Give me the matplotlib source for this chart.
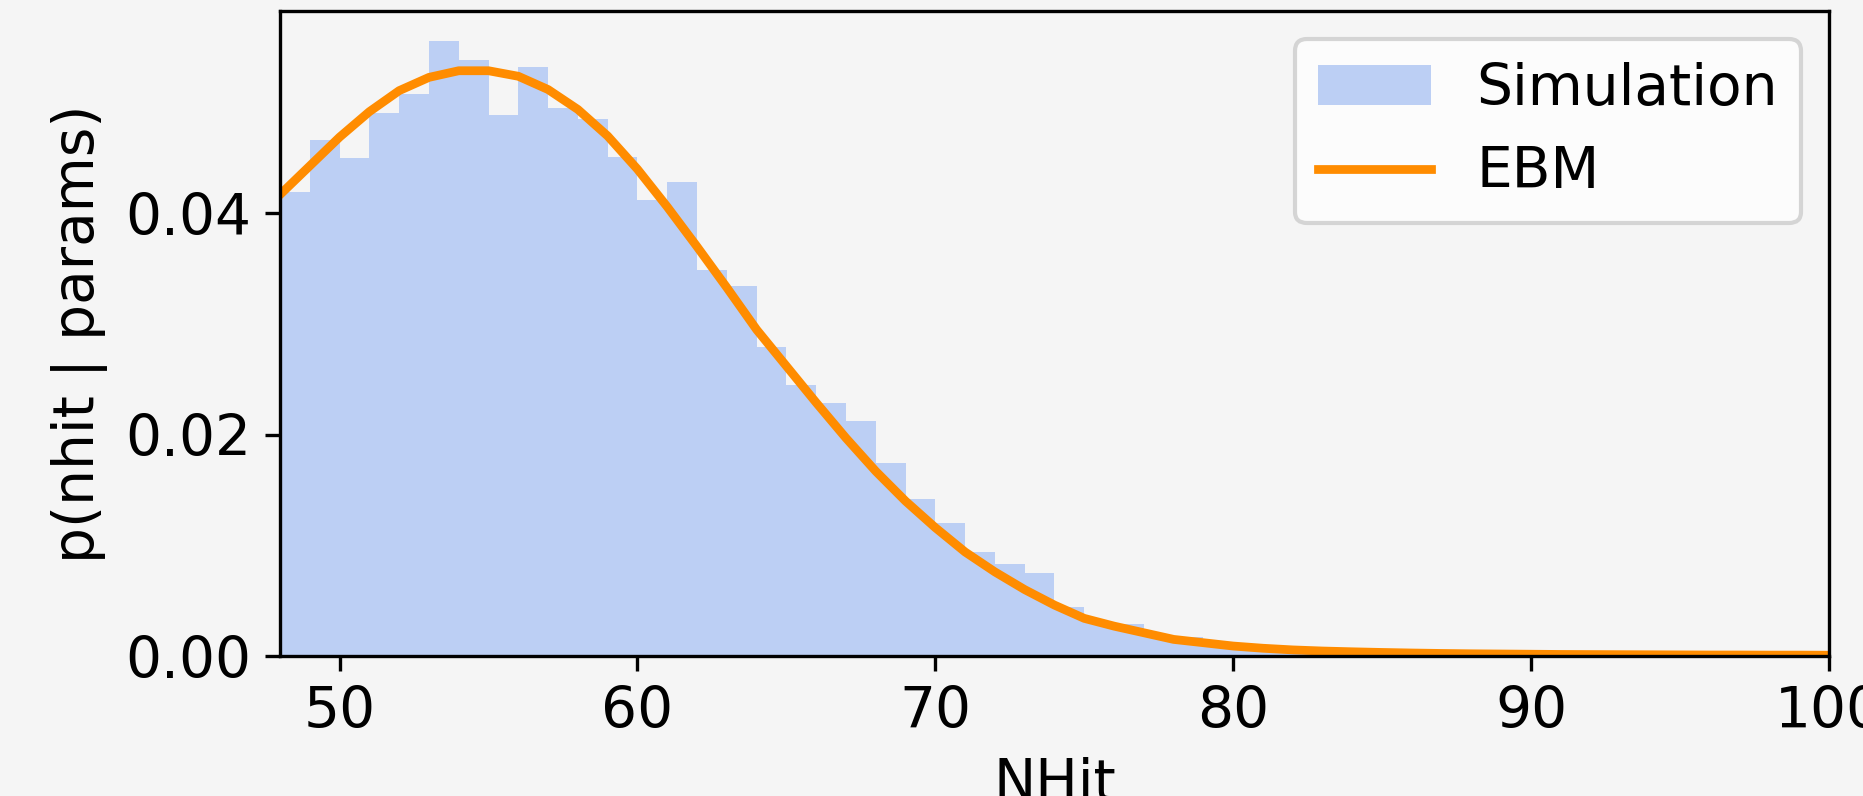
#!/usr/bin/env python3
"""
NHit distribution: simulated histogram vs. EBM density.

Writes out.png (1864x796).
"""

from __future__ import annotations

import matplotlib

matplotlib.use("Agg")
import matplotlib.pyplot as plt
import numpy as np

BG_COLOR = "#f5f5f5"
SIM_COLOR = "#bccff4"
EBM_COLOR = "darkorange"

# histogram bin edges (integer NHit) and normalised counts
BIN_EDGES = list(range(48, 101))
SIM_DENSITY = [
    0.0419, 0.0466, 0.0450, 0.0491, 0.0508, 0.0556, 0.0539, 0.0489, 0.0532, 0.0495,
    0.0485, 0.0451, 0.0412, 0.0428, 0.0349, 0.0334, 0.0279, 0.0245, 0.0229, 0.0212,
    0.0174, 0.0142, 0.0120, 0.0094, 0.0083, 0.0075, 0.0044, 0.0030, 0.0029, 0.0019,
    0.0017, 0.0011, 0.0008, 0.0006, 0.0007, 0.0003, 0.0002, 0.0001, 0.0001, 0.0,
    0.0, 0.0, 0.0, 0.0, 0.0, 0.0, 0.0, 0.0, 0.0, 0.0,
    0.0, 0.0,
]

# EBM likelihood evaluated at each integer NHit
EBM_NHIT = list(range(48, 101))
EBM_DENSITY = [
    0.0417, 0.0443, 0.0469, 0.0492, 0.0511, 0.0523, 0.0529, 0.0529, 0.0524, 0.0512,
    0.0494, 0.0470, 0.0440, 0.0406, 0.0370, 0.0333, 0.0295, 0.0262, 0.0229, 0.0197,
    0.0167, 0.0140, 0.0116, 0.0094, 0.0076, 0.0060, 0.0046, 0.0034, 0.0027, 0.0021,
    0.0015, 0.0012, 0.0009, 0.0007, 0.00055, 0.00045, 0.00038, 0.00032, 0.00027, 0.00023,
    0.00020, 0.00018, 0.00016, 0.00014, 0.00013, 0.00012, 0.00011, 0.00010, 0.00009, 0.00009,
    0.00008, 0.00008, 0.00007,
]


def main() -> None:
    plt.rcParams["font.family"] = ["DejaVu Sans"]
    plt.rcParams["font.size"] = 13.6

    fig = plt.figure(figsize=(1864 / 300, 796 / 300), dpi=300, facecolor=BG_COLOR)
    ax = fig.add_axes([280 / 1864, 140 / 796, 1549 / 1864, 645 / 796])
    ax.set_facecolor(BG_COLOR)

    ax.stairs(
        np.array(SIM_DENSITY), np.array(BIN_EDGES),
        fill=True, color=SIM_COLOR, linewidth=0, label="Simulation",
    )
    ax.plot(EBM_NHIT, EBM_DENSITY, color=EBM_COLOR, linewidth=2.1, label="EBM")

    ax.set_xlim(48, 100)
    ax.set_ylim(0, 0.0583)
    ax.set_xticks([50, 60, 70, 80, 90, 100])
    ax.set_yticks([0.0, 0.02, 0.04])
    ax.set_xlabel("NHit")
    ax.set_ylabel("p(nhit | params)")

    leg = ax.legend(loc="upper right", facecolor="white", framealpha=0.8)
    leg.get_frame().set_edgecolor("0.8")

    fig.savefig("out.png", dpi=300, facecolor=BG_COLOR)
    plt.close(fig)


if __name__ == "__main__":
    main()
